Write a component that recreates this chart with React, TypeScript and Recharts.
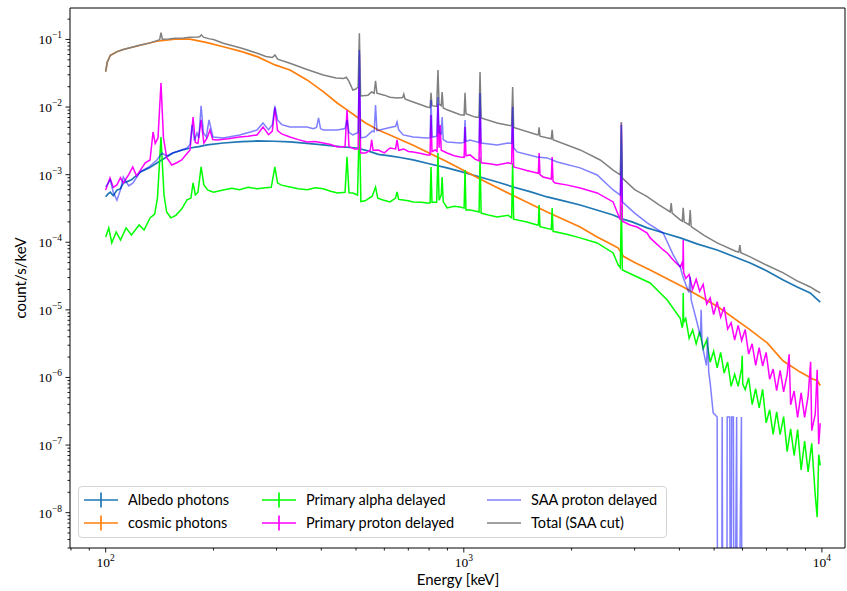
import React from 'react';
import { LineChart, Line, XAxis, YAxis } from 'recharts';

type Pt = [number, number];

// ---- axis ranges / ticks ----
const X_MIN = 79.5;
const X_MAX = 11600;
const Y_MIN = 3.0e-9;
const Y_MAX = 0.292;
const Y_MAJOR = [1e-8, 1e-7, 1e-6, 1e-5, 1e-4, 1e-3, 1e-2, 1e-1];
const MINOR_MULT = [2, 3, 4, 5, 6, 7, 8, 9];

// ---- series (energy keV, count/s/keV) ----
const ALBEDO: Pt[] = [
  [100, 4.7e-4], [101.5, 5.2e-4], [103, 5.5e-4], [105, 4.9e-4], [107.5, 5.9e-4], [110, 6.2e-4],
  [112, 7.5e-4], [118, 8.4e-4], [125, 1.1e-3], [132, 1.25e-3], [139, 1.49e-3], [146, 1.75e-3],
  [154, 2.09e-3], [163, 2.3e-3], [172, 2.48e-3], [182, 2.6e-3], [192, 2.75e-3], [213, 2.94e-3],
  [240, 3.08e-3], [265, 3.15e-3], [295, 3.12e-3], [327, 3.05e-3], [365, 2.9e-3], [405, 2.75e-3],
  [450, 2.6e-3], [502, 2.48e-3], [540, 2.25e-3], [577, 2.0e-3], [622, 1.9e-3], [670, 1.78e-3],
  [722, 1.65e-3], [800, 1.45e-3], [898, 1.26e-3], [1000, 1.08e-3], [1110, 9.25e-4], [1240, 7.8e-4],
  [1373, 6.58e-4], [1530, 5.6e-4], [1709, 4.68e-4], [1900, 4.1e-4], [2113, 3.56e-4], [2350, 3.0e-4],
  [2612, 2.53e-4], [2780, 2.2e-4], [2950, 2.0e-4], [3251, 1.63e-4], [3600, 1.38e-4], [4021, 1.16e-4],
  [4500, 9.4e-5], [5099, 7.7e-5], [5650, 6.2e-5], [6305, 4.94e-5], [7000, 3.8e-5], [7799, 2.77e-5],
  [8500, 2.2e-5], [9276, 1.78e-5], [9600, 1.5e-5], [9893, 1.3e-5],
];

const COSMIC: Pt[] = [
  [100, 0.0334], [101, 0.046], [103, 0.058], [107.5, 0.066], [112, 0.071], [125, 0.082], [139, 0.094],
  [156, 0.101], [172, 0.101], [192, 0.090], [213, 0.078], [240, 0.066], [265, 0.0557], [297, 0.042],
  [327, 0.0354], [365, 0.0252], [405, 0.0169], [444, 0.0114], [472, 0.0091], [502, 0.0072],
  [532, 0.0058], [577, 0.00458], [622, 0.00387], [722, 0.00272], [898, 0.00155], [1110, 8.6e-4],
  [1373, 4.9e-4], [1709, 2.8e-4], [2113, 1.68e-4], [2357, 1.2e-4], [2612, 9.0e-5], [2700, 8.2e-5],
  [2790, 6.2e-5], [3000, 5.0e-5], [3314, 3.9e-5], [4099, 2.18e-5], [5099, 1.13e-5], [6305, 5.05e-6],
  [7035, 3.24e-6], [7799, 1.75e-6], [8699, 1.2e-6], [9456, 9.4e-7], [9703, 9.0e-7], [9893, 7.6e-7],
];

const ALPHA: Pt[] = [
  [100, 1.2e-4], [102, 1.63e-4], [104, 9.8e-5], [107, 1.42e-4], [110, 1.08e-4], [114, 1.63e-4],
  [118, 1.28e-4], [124, 1.8e-4], [128, 1.52e-4], [133, 2.29e-4], [137, 2.6e-4], [139.5, 4.5e-4],
  [142.7, 3.61e-3], [145.5, 5.0e-4], [148, 2.8e-4], [152, 2.3e-4], [157, 2.5e-4], [163, 3.1e-4],
  [168.7, 4.23e-4], [173, 4.5e-4], [175.4, 7.54e-4], [178, 5.0e-4], [181, 5.5e-4], [184.7, 1.3e-3],
  [188, 7.05e-4], [193, 5.9e-4], [200, 5.5e-4], [212.8, 5.94e-4], [225, 6.3e-4], [236.5, 6.0e-4],
  [250, 6.5e-4], [264.5, 6.2e-4], [280, 6.4e-4], [290, 6.5e-4], [296.8, 1.3e-3], [302, 7.5e-4],
  [310, 7.0e-4], [327, 6.58e-4], [345, 6.2e-4], [365, 6.0e-4], [385, 6.4e-4], [405, 6.2e-4],
  [425, 5.7e-4], [444, 5.36e-4], [466, 5.5e-4], [472, 1.83e-3], [478, 5.4e-4], [490, 5.36e-4],
  [505, 5.0e-4], [511, 6.45e-3], [516, 4.0e-4], [530, 4.1e-4], [555, 4.8e-4], [567, 6.58e-4],
  [575, 4.5e-4], [595, 4.23e-4], [622, 3.95e-4], [645, 4.5e-4], [651, 5.55e-4], [658, 4.3e-4],
  [677, 4.23e-4], [700, 4.1e-4], [722, 3.95e-4], [760, 3.9e-4], [790, 3.81e-4], [805, 3.8e-4],
  [810, 1.3e-3], [815, 3.9e-4], [840, 3.9e-4], [847, 2.09e-3], [853, 4.2e-4], [865, 5.0e-4],
  [870, 9.25e-4], [876, 4.0e-4], [898, 3.22e-4], [940, 3.4e-4], [977, 3.33e-4], [1002, 3.2e-4],
  [1008, 1.17e-3], [1014, 3.0e-4], [1041, 3.0e-4], [1075, 2.9e-4], [1103, 2.8e-4], [1110, 1.83e-3],
  [1118, 2.7e-4], [1180, 2.5e-4], [1239, 2.37e-4], [1330, 2.5e-4], [1360, 2.3e-4], [1369, 1.49e-3],
  [1378, 2.2e-4], [1500, 2.0e-4], [1602, 1.8e-4], [1615, 1.8e-4], [1623, 3.56e-4], [1632, 1.7e-4],
  [1755, 1.55e-4], [1765, 3.22e-4], [1775, 1.45e-4], [1950, 1.3e-4], [2113, 1.16e-4], [2357, 9.77e-5],
  [2612, 6.95e-5], [2698, 4.62e-5], [2735, 4.2e-5], [2754, 3.56e-4], [2772, 3.9e-5], [3000, 3.2e-5],
  [3314, 2.5e-5], [3699, 1.4e-5], [4021, 7.5e-6], [4072, 5.48e-6], [4090, 6.0e-6], [4099, 1.78e-5],
  [4110, 6.5e-6], [4166, 7.48e-6], [4259, 3.79e-6], [4356, 5.05e-6], [4455, 3.14e-6], [4556, 4.81e-6],
  [4660, 2.67e-6], [4766, 3.56e-6], [4875, 1.68e-6], [4985, 2.45e-6], [5099, 1.39e-6], [5215, 2.34e-6],
  [5334, 1.16e-6], [5455, 1.69e-6], [5579, 7.4e-7], [5706, 1.11e-6], [5836, 7.4e-7], [5969, 1.37e-6],
  [5990, 2.1e-6], [6010, 8.0e-7], [6105, 6.6e-7], [6243, 9.9e-7], [6385, 3.98e-7], [6531, 6.8e-7],
  [6680, 3.54e-7], [6831, 6.65e-7], [6987, 2.13e-7], [7146, 3.33e-7], [7308, 1.44e-7], [7474, 3.1e-7],
  [7644, 1.43e-7], [7818, 2.64e-7], [7996, 8.0e-8], [8178, 1.74e-7], [8364, 7.0e-8], [8554, 1.69e-7],
  [8749, 4.3e-8], [8948, 1.14e-7], [9151, 4.0e-8], [9366, 1.06e-7], [9579, 1.82e-8], [9700, 8.6e-9],
  [9797, 7.2e-8], [9893, 5.0e-8],
];

const PROTON: Pt[] = [
  [100, 5.94e-4], [102.8, 8.94e-4], [105, 6.5e-4], [107.5, 7.05e-4], [110, 9.0e-4], [112, 7.54e-4],
  [116, 1.0e-3], [119, 1.3e-3], [122, 9.5e-4], [125, 1.17e-3], [129, 1.5e-3], [133, 1.65e-3],
  [135.6, 4.28e-3], [137.5, 2.9e-3], [140, 3.5e-3], [142.7, 0.0227], [145, 3.5e-3], [148, 1.8e-3],
  [152.9, 1.39e-3], [158, 1.5e-3], [163, 1.65e-3], [168, 2.0e-3], [172, 2.32e-3], [175.4, 7.14e-3],
  [178, 3.0e-3], [181, 2.9e-3], [184.7, 6.45e-3], [188, 2.94e-3], [192, 3.5e-3], [195.5, 4.58e-3],
  [199, 3.3e-3], [204.6, 3.26e-3], [220, 3.4e-3], [236.5, 3.61e-3], [250, 3.7e-3], [264.5, 3.87e-3],
  [275, 5.08e-3], [285, 3.9e-3], [292, 4.4e-3], [296.8, 9.7e-3], [302, 4.5e-3], [310, 4.0e-3],
  [327, 3.61e-3], [345, 3.3e-3], [365, 3.05e-3], [385, 3.1e-3], [405, 2.94e-3], [425, 2.8e-3],
  [444, 2.57e-3], [466, 2.6e-3], [472, 9.06e-3], [478, 2.6e-3], [495, 2.4e-3], [507, 2.4e-3],
  [511, 0.06], [515, 2.09e-3], [532, 2.09e-3], [548, 2.3e-3], [553, 3.26e-3], [558, 2.3e-3],
  [577, 2.32e-3], [600, 2.1e-3], [622, 2.48e-3], [645, 2.4e-3], [651, 3.26e-3], [658, 2.3e-3],
  [680, 2.4e-3], [700, 2.2e-3], [722, 2.17e-3], [760, 2.05e-3], [790, 1.96e-3], [805, 1.95e-3],
  [810, 7.64e-3], [815, 2.2e-3], [832, 2.32e-3], [842, 2.2e-3], [847, 0.011], [853, 2.5e-3],
  [859, 5.43e-3], [865, 2.3e-3], [898, 2.09e-3], [940, 1.9e-3], [977, 1.83e-3], [1002, 1.8e-3],
  [1008, 5.08e-3], [1014, 1.9e-3], [1041, 1.96e-3], [1075, 1.7e-3], [1103, 1.6e-3], [1110, 0.0127],
  [1118, 1.5e-3], [1180, 1.45e-3], [1239, 1.39e-3], [1330, 1.5e-3], [1360, 1.45e-3], [1369, 0.0107],
  [1378, 1.3e-3], [1409, 1.26e-3], [1500, 1.15e-3], [1602, 1.06e-3], [1615, 1.05e-3], [1623, 2.09e-3],
  [1632, 1.0e-3], [1665, 9.25e-4], [1755, 8.6e-4], [1765, 1.83e-3], [1775, 8.0e-4], [1799, 7.54e-4],
  [1950, 7.0e-4], [2113, 6.36e-4], [2357, 5.36e-4], [2612, 3.95e-4], [2735, 2.14e-4], [2754, 5.82e-3],
  [2772, 2.05e-4], [2914, 1.8e-4], [3049, 1.68e-4], [3251, 1.37e-4], [3314, 1.16e-4], [3604, 7.7e-5],
  [3699, 6.95e-5], [3843, 5.47e-5], [4021, 4.31e-5], [4072, 5.02e-5], [4090, 4.0e-5], [4099, 1.08e-4],
  [4110, 3.6e-5], [4166, 2.9e-5], [4259, 3.33e-5], [4356, 2.01e-5], [4455, 2.84e-5], [4556, 1.88e-5],
  [4660, 2.38e-5], [4766, 1.22e-5], [4875, 1.51e-5], [4985, 8.5e-6], [5099, 1.32e-5], [5215, 7.8e-6],
  [5334, 1.1e-5], [5455, 5.2e-6], [5579, 6.4e-6], [5706, 3.58e-6], [5836, 5.9e-6], [5969, 3.51e-6],
  [6105, 5.1e-6], [6243, 2.22e-6], [6385, 3.15e-6], [6531, 1.51e-6], [6680, 2.75e-6], [6831, 1.48e-6],
  [6987, 2.35e-6], [7146, 9.4e-7], [7308, 1.33e-6], [7474, 6.4e-7], [7644, 1.27e-6], [7818, 6.1e-7],
  [7996, 1.11e-6], [8100, 2.2e-6], [8178, 3.95e-7], [8364, 6.3e-7], [8554, 2.56e-7], [8749, 5.9e-7],
  [8948, 2.57e-7], [9151, 5.3e-7], [9300, 1.7e-6], [9366, 1.63e-7], [9579, 2.83e-7], [9700, 1.3e-6],
  [9797, 1.03e-7], [9893, 2.1e-7],
];

const SAA: Pt[] = [
  [100, 6.58e-4], [103, 8.35e-4], [105, 5.5e-4], [107.5, 4.2e-4], [110, 6.0e-4], [112, 9.25e-4],
  [116, 6.8e-4], [119, 7.5e-4], [125, 1.1e-3], [132, 1.3e-3], [139, 1.65e-3], [143.6, 2.09e-3],
  [148, 1.9e-3], [154, 2.09e-3], [162, 2.3e-3], [168.7, 2.48e-3], [172, 2.8e-3], [174.2, 5.43e-3],
  [177, 3.2e-3], [179.9, 4.14e-3], [182, 3.5e-3], [184.7, 0.0104], [187.5, 4.14e-3], [191, 3.6e-3],
  [194.3, 6.45e-3], [199.4, 3.61e-3], [212.8, 3.49e-3], [236.5, 3.87e-3], [255, 4.3e-3], [264.5, 4.58e-3],
  [275, 5.82e-3], [285, 4.6e-3], [292, 5.5e-3], [296.8, 0.0104], [302, 6.45e-3], [310, 5.5e-3],
  [327, 5.08e-3], [365, 5.08e-3], [380, 4.8e-3], [388, 5.0e-3], [393, 6.9e-3], [398, 4.8e-3],
  [405, 4.58e-3], [444, 4.58e-3], [466, 4.8e-3], [472, 6.45e-3], [478, 4.2e-3], [490, 3.87e-3],
  [507, 4.2e-3], [511, 0.07], [515, 3.49e-3], [532, 3.61e-3], [555, 4.4e-3], [562, 4.3e-3],
  [567, 0.0107], [572, 4.5e-3], [582, 4.58e-3], [631, 5.08e-3], [645, 5.2e-3], [651, 6.02e-3],
  [658, 4.6e-3], [677, 3.87e-3], [722, 3.61e-3], [790, 3.49e-3], [805, 3.5e-3], [810, 0.0127],
  [816, 3.6e-3], [840, 3.7e-3], [847, 0.0141], [853, 4.2e-3], [865, 4.0e-3], [870, 7.14e-3],
  [876, 3.3e-3], [898, 3.05e-3], [977, 2.94e-3], [1002, 3.0e-3], [1008, 6.45e-3], [1014, 3.1e-3],
  [1041, 3.26e-3], [1103, 3.0e-3], [1110, 0.0162], [1118, 2.94e-3], [1239, 2.75e-3], [1330, 2.94e-3],
  [1360, 2.9e-3], [1369, 0.01], [1378, 2.5e-3], [1409, 2.17e-3], [1602, 1.83e-3], [1709, 1.77e-3],
  [1823, 1.54e-3], [2113, 1.26e-3], [2357, 9.9e-4], [2612, 5.94e-4], [2735, 5.0e-4], [2754, 5.43e-3],
  [2772, 3.95e-4], [3000, 2.7e-4], [3251, 1.93e-4], [3604, 1.37e-4], [3843, 6.5e-5], [4021, 4.3e-5],
  [4099, 3.0e-5], [4250, 1.8e-5], [4287, 3.07e-5], [4315, 1.4e-5], [4484, 6.4e-6], [4580, 4.0e-6],
  [4600, 1.0e-5], [4625, 3.5e-6], [4661, 2.55e-6], [4760, 1.5e-6], [4800, 4.0e-6], [4830, 1.2e-6],
  [4875, 8.3e-7], [4970, 3.0e-7], [5099, 2.6e-7], [5120, 1e-12], [5240, 1e-12], [5266, 2.6e-7],
  [5300, 1e-12], [5420, 1e-12], [5439, 2.6e-7], [5530, 2.6e-7], [5560, 1e-12], [5600, 2.6e-7],
  [5660, 2.6e-7], [5690, 1e-12], [5780, 2.6e-7], [5810, 1e-12], [5960, 2.6e-7], [5990, 1e-12],
];

const TOTAL: Pt[] = [
  [100, 0.0334], [101, 0.046], [103, 0.058], [107.5, 0.066], [112, 0.071], [125, 0.083], [133, 0.089],
  [139, 0.096], [141.5, 0.099], [142.7, 0.126], [144, 0.101], [150, 0.102], [156, 0.104], [165, 0.105],
  [172, 0.108], [180, 0.109], [183, 0.11], [185, 0.117], [187.5, 0.108], [195, 0.102], [200, 0.1],
  [213, 0.088], [240, 0.074], [265, 0.0625], [280, 0.056], [292, 0.054], [297, 0.059], [302, 0.051],
  [327, 0.0445], [365, 0.036], [405, 0.0298], [440, 0.027], [462, 0.0265], [470, 0.0276], [478, 0.024],
  [490, 0.0179], [500, 0.0185], [507, 0.02], [511, 0.123], [515, 0.0146], [540, 0.015], [553, 0.0167],
  [562, 0.016], [567, 0.0245], [572, 0.016], [600, 0.015], [622, 0.014], [651, 0.0136], [675, 0.0138],
  [680, 0.0155], [685, 0.0132], [722, 0.0119], [790, 0.01], [805, 0.0098], [810, 0.0162], [815, 0.0105],
  [840, 0.0102], [847, 0.0354], [853, 0.011], [865, 0.0105], [870, 0.0167], [876, 0.0097], [898, 0.0091],
  [977, 0.0077], [1002, 0.0076], [1008, 0.0162], [1014, 0.008], [1075, 0.0071], [1103, 0.007],
  [1110, 0.0331], [1118, 0.0069], [1239, 0.0058], [1330, 0.0054], [1360, 0.0053], [1369, 0.0198],
  [1378, 0.005], [1602, 0.0039], [1615, 0.0039], [1623, 0.005], [1632, 0.0037], [1755, 0.0034],
  [1765, 0.0046], [1775, 0.0033], [2113, 0.00232], [2404, 0.00165], [2612, 0.00117], [2735, 9.9e-4],
  [2754, 0.006], [2772, 8.9e-4], [3000, 6.0e-4], [3251, 4.73e-4], [3500, 3.6e-4], [3771, 2.81e-4],
  [3795, 3.8e-4], [3818, 2.7e-4], [4021, 2.14e-4], [4075, 2.05e-4], [4099, 3.22e-4], [4125, 2.0e-4],
  [4260, 1.8e-4], [4287, 3.0e-4], [4315, 1.7e-4], [4700, 1.25e-4], [5099, 9.77e-5], [5700, 7.5e-5],
  [5860, 7.1e-5], [5900, 9.1e-5], [5940, 7.0e-5], [6305, 6.07e-5], [7000, 4.6e-5], [7799, 3.52e-5],
  [8500, 2.7e-5], [9276, 2.18e-5], [9600, 1.95e-5], [9893, 1.78e-5],
];

const rows = (pts: Pt[]) => pts.map(([e, v]) => ({ e, v }));

const X_TICKS = [80, 90, ...[1, 10].flatMap((d) => [100 * d, ...MINOR_MULT.map((m) => m * 100 * d)]), 10000]
  .filter((t) => t >= X_MIN && t <= X_MAX)
  .sort((a, b) => a - b);
const Y_TICKS = [...MINOR_MULT.map((m) => m * 1e-9), ...Y_MAJOR.flatMap((d) => [d, ...MINOR_MULT.map((m) => m * d)])]
  .filter((t) => t >= Y_MIN && t <= Y_MAX)
  .sort((a, b) => a - b);

const isMajor = (v: number) => {
  const lg = Math.log10(v);
  return Math.abs(lg - Math.round(lg)) < 1e-6;
};

const SERIF = '"Liberation Serif", "DejaVu Serif", serif';
const SANS = 'Lato, "Open Sans", "DejaVu Sans", sans-serif';

const XTick = (props: any) => {
  const { x, y, payload } = props;
  const v = payload.value;
  const major = isMajor(v);
  const exp = Math.round(Math.log10(v));
  return (
    <g>
      <line x1={x} y1={y} x2={x} y2={y + (major ? 4.5 : 2.5)} stroke="#000" strokeWidth={0.9} />
      {major && (
        <text x={x} y={y + 19} textAnchor="middle" fontFamily={SERIF} fontSize={13.5} fill="#000">
          10<tspan dy={-6} fontSize={9.5}>{String(exp)}</tspan>
        </text>
      )}
    </g>
  );
};

const YTick = (props: any) => {
  const { x, y, payload } = props;
  const v = payload.value;
  const major = isMajor(v);
  const exp = Math.round(Math.log10(v));
  return (
    <g>
      <line x1={x - (major ? 4.5 : 2.5)} y1={y} x2={x} y2={y} stroke="#000" strokeWidth={0.9} />
      {major && (
        <text x={x - 8} y={y + 5} textAnchor="end" fontFamily={SERIF} fontSize={13.5} fill="#000">
          10<tspan dy={-6} fontSize={9.5}>{'\u2212' + String(-exp)}</tspan>
        </text>
      )}
    </g>
  );
};

const LEGEND = [
  { label: 'Albedo photons', color: '#1f77b4', err: true, col: 0, row: 0 },
  { label: 'cosmic photons', color: '#ff7f0e', err: true, col: 0, row: 1 },
  { label: 'Primary alpha delayed', color: '#00ff00', err: true, col: 1, row: 0 },
  { label: 'Primary proton delayed', color: '#ff00ff', err: true, col: 1, row: 1 },
  { label: 'SAA proton delayed', color: '#8080ff', err: false, col: 2, row: 0 },
  { label: 'Total (SAA cut)', color: '#808080', err: false, col: 2, row: 1 },
];
const LEG_COL_X = [84, 262, 487];
const LEG_ROW_Y = [500, 523];

export default function App() {
  const lineProps = {
    xAxisId: 'b',
    yAxisId: 'l',
    dataKey: 'v',
    type: 'linear' as const,
    dot: false,
    activeDot: false,
    isAnimationActive: false,
    strokeWidth: 1.7,
  };
  return (
    <div style={{ position: 'absolute', left: 0, top: 0, width: 847, height: 591, background: '#fff' }}>
      <LineChart width={847} height={591} margin={{ top: 8, right: 2, bottom: 0, left: 0 }}>
        <XAxis
          xAxisId="b"
          type="number"
          dataKey="e"
          scale="log"
          domain={[X_MIN, X_MAX]}
          allowDataOverflow
          ticks={X_TICKS}
          interval={0}
          tick={<XTick />}
          tickLine={false}
          tickSize={0}
          tickMargin={0}
          height={43}
          axisLine={{ stroke: '#000', strokeWidth: 1 }}
        />
        <YAxis
          yAxisId="l"
          type="number"
          dataKey="v"
          scale="log"
          domain={[Y_MIN, Y_MAX]}
          allowDataOverflow
          ticks={Y_TICKS}
          interval={0}
          tick={<YTick />}
          tickLine={false}
          tickSize={0}
          tickMargin={0}
          width={70}
          axisLine={{ stroke: '#000', strokeWidth: 1 }}
        />
        <Line {...lineProps} data={rows(ALBEDO)} stroke="#1f77b4" name="Albedo photons" />
        <Line {...lineProps} data={rows(COSMIC)} stroke="#ff7f0e" name="cosmic photons" />
        <Line {...lineProps} data={rows(ALPHA)} stroke="#00ff00" strokeWidth={1.5} name="Primary alpha delayed" />
        <Line {...lineProps} data={rows(PROTON)} stroke="#ff00ff" strokeWidth={1.5} name="Primary proton delayed" />
        <Line {...lineProps} data={rows(TOTAL)} stroke="#808080" strokeWidth={1.5} name="Total (SAA cut)" />
        <Line {...lineProps} data={rows(SAA)} stroke="#0000ff" strokeOpacity={0.5} strokeWidth={1.5} name="SAA proton delayed" />
      </LineChart>

      <svg
        width={847}
        height={591}
        style={{ position: 'absolute', left: 0, top: 0, pointerEvents: 'none' }}
      >
        <line x1={70} y1={8} x2={845} y2={8} stroke="#000" strokeWidth={1} />
        <line x1={845} y1={8} x2={845} y2={548} stroke="#000" strokeWidth={1} />
      </svg>

      <div
        style={{
          position: 'absolute', left: 458, top: 570, transform: 'translateX(-50%)',
          fontFamily: SANS, fontSize: 15, lineHeight: '18px', whiteSpace: 'nowrap', color: '#000',
        }}
      >
        Energy [keV]
      </div>
      <div
        style={{
          position: 'absolute', left: 20, top: 278, transform: 'translate(-50%, -50%) rotate(-90deg)',
          fontFamily: SANS, fontSize: 15, lineHeight: '18px', whiteSpace: 'nowrap', color: '#000',
        }}
      >
        count/s/keV
      </div>

      <div
        style={{
          position: 'absolute', left: 78, top: 486, width: 589, height: 52, boxSizing: 'border-box',
          border: '1px solid #d4d4d4', borderRadius: 4, background: 'rgba(255,255,255,0.8)',
        }}
      />
      {LEGEND.map((it) => {
        const hx = LEG_COL_X[it.col];
        const hy = LEG_ROW_Y[it.row];
        return (
          <React.Fragment key={it.label}>
            <svg
              width={36}
              height={18}
              style={{ position: 'absolute', left: hx, top: hy - 9, overflow: 'visible' }}
            >
              <line x1={0} y1={9} x2={34} y2={9} stroke={it.color} strokeWidth={1.7} />
              {it.err && <line x1={17} y1={1.5} x2={17} y2={16.5} stroke={it.color} strokeWidth={1.7} />}
            </svg>
            <div
              style={{
                position: 'absolute', left: hx + 44, top: hy - 10, fontFamily: SANS, fontSize: 14.5,
                lineHeight: '20px', whiteSpace: 'nowrap', color: '#000',
              }}
            >
              {it.label}
            </div>
          </React.Fragment>
        );
      })}
    </div>
  );
}
